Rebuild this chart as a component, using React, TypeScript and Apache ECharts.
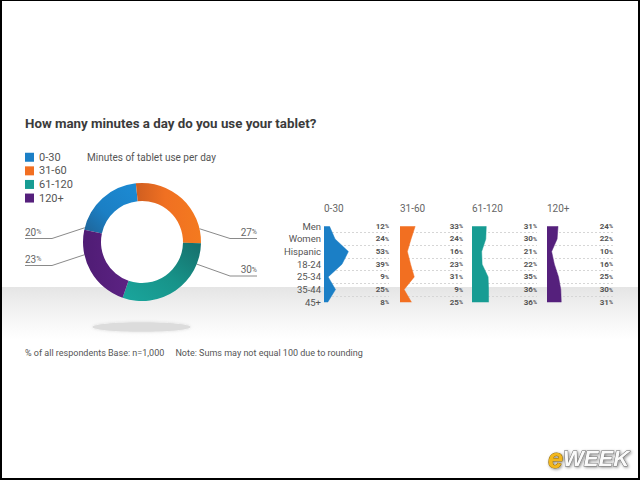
import React, { useEffect, useRef } from 'react';
import * as echarts from 'echarts';

const TITLE = 'How many minutes a day do you use your tablet?';
const SUBTITLE = 'Minutes of tablet use per day';
const FOOTNOTE = '% of all respondents Base: n=1,000     Note: Sums may not equal 100 due to rounding';

const durations = ['0-30', '31-60', '61-120', '120+'];
const overallShare = [20, 27, 30, 23];

const segments = ['Men', 'Women', 'Hispanic', '18-24', '25-34', '35-44', '45+'];
const share0to30 = [12, 24, 53, 39, 9, 25, 8];
const share31to60 = [33, 24, 16, 23, 31, 9, 25];
const share61to120 = [31, 30, 21, 22, 35, 36, 36];
const share120plus = [24, 22, 10, 16, 25, 30, 31];
const segmentShares = [share0to30, share31to60, share61to120, share120plus];

const COLORS = ['#1b7fc6', '#f26f21', '#179c93', '#55207c'];
const FONT = 'Roboto';

const PIE_C = [142, 242];
const PIE_R = [41, 59];
const LABEL_GUIDES = [
  { angle: 166, lineY: 238.5, elbowX: 52, endX: 25 },
  { angle: 13, lineY: 238.5, elbowX: 230, endX: 257 },
  { angle: -22, lineY: 276, elbowX: 230, endX: 257 },
  { angle: 192.5, lineY: 265.5, elbowX: 52, endX: 25 },
];

const COL_LEFT = [324, 400, 472, 547];
const COL_RIGHT = [389, 463, 537, 613];
const PX_PER_PCT = 0.46;
const GRID_TOP = 220;
const GRID_HEIGHT = 88.5;

function pieGradient(i: number) {
  const G = echarts.graphic.LinearGradient;
  if (i === 0) return new G(1, 0, 0, 1, [{ offset: 0, color: '#1c8bd4' }, { offset: 0.6, color: '#1b7fc4' }, { offset: 1, color: '#1f6396' }]);
  if (i === 1) return new G(0, 0, 1, 0, [{ offset: 0, color: '#cf5e20' }, { offset: 0.45, color: '#f07022' }, { offset: 1, color: '#f47a1f' }]);
  if (i === 2) return new G(1, 0, 0, 1, [{ offset: 0, color: '#166e6b' }, { offset: 0.5, color: '#179389' }, { offset: 1, color: '#1aa69d' }]);
  return new G(0, 0, 1, 0, [{ offset: 0, color: '#4f1c74' }, { offset: 1, color: '#5c2283' }]);
}

export default function App() {
  const ref = useRef<HTMLDivElement>(null);
  useEffect(() => {
    if (!ref.current) return;
    const chart = echarts.init(ref.current, undefined, { renderer: 'svg' });

    const grids: any[] = [];
    const xAxes: any[] = [];
    const yAxes: any[] = [];
    const lineSeries: any[] = [];
    segmentShares.forEach((vals, i) => {
      const w = COL_RIGHT[i] - COL_LEFT[i];
      grids.push({ left: COL_LEFT[i], top: GRID_TOP, width: w, height: GRID_HEIGHT });
      xAxes.push({ type: 'value', gridIndex: i, min: 0, max: w / PX_PER_PCT, show: false });
      yAxes.push({
        type: 'category', gridIndex: i, data: segments, inverse: true, position: 'left',
        axisLine: { show: false }, axisTick: { show: false },
        axisLabel: { show: i === 0, interval: 0, margin: 3, color: '#555', fontSize: 9.5, fontFamily: FONT },
        splitLine: { show: true, interval: 0, showMinLine: false, showMaxLine: false, lineStyle: { type: [2, 2], color: '#d6d6d6', width: 1 } },
      });
      yAxes.push({
        type: 'category', gridIndex: i, data: segments, inverse: true, position: 'right',
        axisLine: { show: false }, axisTick: { show: false }, splitLine: { show: false },
        axisLabel: {
          inside: true, margin: 0, interval: 0,
          formatter: (_v: string, idx: number) => `{v|${vals[idx]}}{p|%}`,
          rich: {
            v: { fontSize: 8, fontWeight: 'bold', color: '#555', fontFamily: FONT },
            p: { fontSize: 5.5, fontWeight: 'bold', color: '#555', fontFamily: FONT },
          },
        },
      });
      lineSeries.push({
        type: 'line', xAxisIndex: i, yAxisIndex: i * 2, data: vals,
        symbol: 'none', silent: true,
        lineStyle: { color: COLORS[i], width: 0.5 },
        areaStyle: { color: COLORS[i], opacity: 1 },
        z: 3,
      });
    });

    const option: any = {
      animation: false,
      textStyle: { fontFamily: FONT },
      title: [
        { text: TITLE, left: 25, top: 117, padding: 0, textStyle: { fontFamily: FONT, fontWeight: 'bold', fontSize: 13.3, color: '#3b3b3b' } },
        { text: SUBTITLE, left: 87, top: 152, padding: 0, textStyle: { fontFamily: FONT, fontWeight: 'normal', fontSize: 10, color: '#555' } },
        { text: FOOTNOTE, left: 25, top: 348, padding: 0, textStyle: { fontFamily: FONT, fontWeight: 'normal', fontSize: 9, color: '#555' } },
        ...durations.map((d, i) => ({
          text: d, left: COL_LEFT[i], top: 203, padding: 0,
          textStyle: { fontFamily: FONT, fontWeight: 'normal', fontSize: 10, color: '#666' },
        })),
      ],
      legend: {
        orient: 'vertical', left: 25, top: 150.5, padding: 0,
        itemWidth: 9, itemHeight: 9, itemGap: 0.1, icon: 'rect', selectedMode: false,
        textStyle: { fontSize: 11, color: '#555', fontFamily: FONT, lineHeight: 13.5 },
        data: durations.map((n, i) => ({ name: n, itemStyle: { color: COLORS[i] } })),
      },
      grid: grids,
      xAxis: xAxes,
      yAxis: yAxes,
      graphic: [
        {
          type: 'rect', z: -10, silent: true,
          shape: { x: 2, y: 287, width: 636, height: 52 },
          style: { fill: new echarts.graphic.LinearGradient(0, 0, 0, 1, [{ offset: 0, color: '#e5e5e5' }, { offset: 0.5, color: '#f3f3f3' }, { offset: 1, color: '#ffffff' }]) },
        },
        {
          type: 'ellipse', z: -5, silent: true,
          shape: { cx: 141.5, cy: 327, rx: 49, ry: 4.8 },
          style: { fill: '#dcdcdc', shadowBlur: 3, shadowColor: 'rgba(0,0,0,0.12)' },
        },
        { type: 'rect', z: 100, silent: true, shape: { x: 0, y: 0, width: 2, height: 480 }, style: { fill: '#000' } },
        { type: 'rect', z: 100, silent: true, shape: { x: 638, y: 0, width: 2, height: 480 }, style: { fill: '#000' } },
        { type: 'rect', z: 100, silent: true, shape: { x: 0, y: 0, width: 640, height: 1 }, style: { fill: '#000' } },
        { type: 'rect', z: 100, silent: true, shape: { x: 0, y: 478, width: 640, height: 2 }, style: { fill: '#000' } },
        {
          type: 'text', z: 100, silent: true, x: 548, y: 445,
          style: {
            text: '{e|e}{w|WEEK}',
            rich: {
              e: { fontSize: 27, fontStyle: 'italic', fontWeight: 'bold', fontFamily: 'Liberation Sans', fill: '#f3b71c', stroke: '#8c6a12', lineWidth: 1, textShadowBlur: 3, textShadowColor: 'rgba(0,0,0,0.45)', textShadowOffsetX: 1, textShadowOffsetY: 1 },
              w: { fontSize: 22, fontStyle: 'italic', fontWeight: 'bold', fontFamily: 'Liberation Sans', fill: '#fafafa', stroke: '#6a6a6a', lineWidth: 1, textShadowBlur: 3, textShadowColor: 'rgba(0,0,0,0.45)', textShadowOffsetX: 1, textShadowOffsetY: 1 },
            },
          },
        },
      ],
      series: [
        {
          type: 'pie', center: PIE_C, radius: PIE_R, startAngle: 168, clockwise: true,
          silent: true, emphasis: { disabled: true },
          data: durations.map((n, i) => ({ name: n, value: overallShare[i], itemStyle: { color: pieGradient(i) } })),
          label: {
            show: true, color: '#666',
            formatter: (p: any) => `{v|${p.value}}{p|%}`,
            rich: {
              v: { fontSize: 10, color: '#666', fontFamily: FONT },
              p: { fontSize: 7, color: '#666', fontFamily: FONT },
            },
          },
          labelLine: { show: true, length: 10, length2: 10, lineStyle: { color: '#8a8a8a', width: 1 } },
          labelLayout: (p: any) => {
            const g = LABEL_GUIDES[p.dataIndex];
            const a = (g.angle * Math.PI) / 180;
            const sx = PIE_C[0] + PIE_R[1] * Math.cos(a);
            const sy = PIE_C[1] - PIE_R[1] * Math.sin(a);
            const left = g.endX < g.elbowX;
            return {
              x: g.endX, y: g.lineY - 1.5,
              align: left ? 'left' : 'right', verticalAlign: 'bottom',
              labelLinePoints: [[sx, sy], [g.elbowX, g.lineY], [g.endX, g.lineY]],
            };
          },
        },
        ...lineSeries,
      ],
    };
    chart.setOption(option);
    return () => chart.dispose();
  }, []);
  return <div ref={ref} style={{ position: 'fixed', left: 0, top: 0, width: 640, height: 480, background: '#fff' }} />;
}
